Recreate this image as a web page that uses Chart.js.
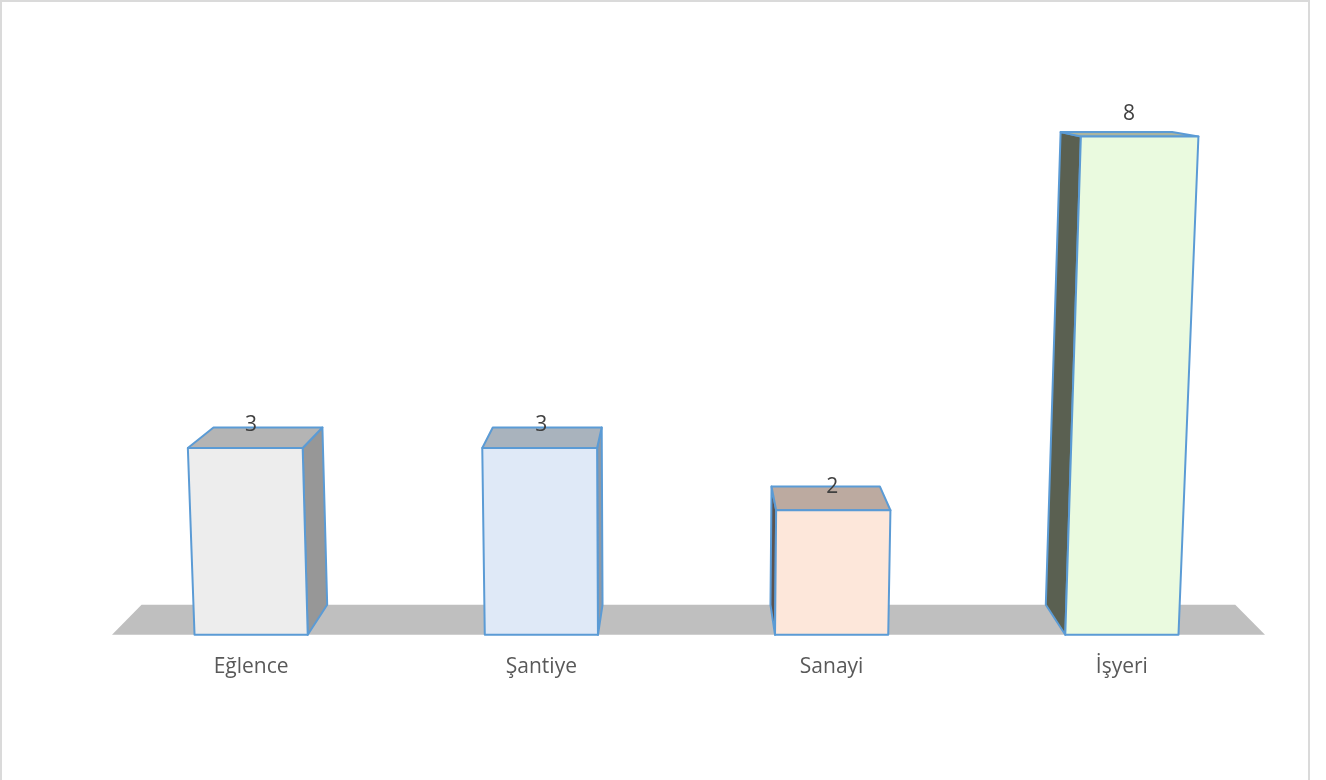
<!DOCTYPE html>
<html><head><meta charset="utf-8">
<script src="https://cdn.jsdelivr.net/npm/chart.js@4.4.1/dist/chart.umd.min.js"></script>
<style>
html,body{margin:0;padding:0;background:#fff;overflow:hidden}
#wrap{position:absolute;left:0;top:0;width:1326px;height:780px}
#frame{position:absolute;left:0;top:0;width:1310px;height:800px;border:2px solid #dadada;box-sizing:border-box;pointer-events:none}
</style></head><body>
<div id="wrap"><canvas id="c" width="1326" height="780"></canvas><div id="frame"></div></div>
<script>
const categories = ['Eğlence', 'Şantiye', 'Sanayi', 'İşyeri'];
const values = [3, 3, 2, 8];
const frontColors = ['#ededed', '#dfe9f7', '#fde7da', '#eafadf'];
const topColors = ['#b4b4b4', '#a9b3bd', '#bcaaa0', '#abb49f'];
const sideColors = ['#979797', '#8e99a6', '#5b524e', '#5a6051'];
const edgeColor = '#5b9bd5';
const floorColor = '#bfbfbf';

const DEPTH = 0.0514;   // depth fraction toward vanishing point
const VERT = 7.7e-5;    // vertical perspective lean

function vanish(a) { return { x: (a.left + a.right) / 2, y: a.top + 38 }; }
function proj(p, vp) { return { x: p.x + DEPTH * (vp.x - p.x), y: p.y + DEPTH * (vp.y - p.y) }; }
function poly(ctx, pts, fill, stroke) {
  ctx.beginPath();
  ctx.moveTo(pts[0].x, pts[0].y);
  for (let i = 1; i < pts.length; i++) ctx.lineTo(pts[i].x, pts[i].y);
  ctx.closePath();
  ctx.fillStyle = fill; ctx.fill();
  if (stroke) { ctx.strokeStyle = stroke; ctx.lineWidth = 2; ctx.lineJoin = 'round'; ctx.stroke(); }
}

const prism = {
  id: 'prism3d',
  beforeDatasetsDraw(chart) {
    const { ctx, chartArea: a, scales: { y } } = chart;
    const vp = vanish(a);
    const base = y.getPixelForValue(0);
    const f1 = { x: a.left + 6, y: base }, f2 = { x: a.right - 2, y: base };
    ctx.save();
    poly(ctx, [f1, f2, proj(f2, vp), proj(f1, vp)], floorColor, null);
    ctx.restore();
  },
  afterDatasetsDraw(chart) {
    const { ctx, chartArea: a } = chart;
    const vp = vanish(a);
    const lx = vp.x - 28;
    const meta = chart.getDatasetMeta(0);
    ctx.save();
    meta.data.forEach((bar, i) => {
      const w = bar.width, h = bar.base - bar.y;
      const bl = { x: bar.x - w / 2, y: bar.base };
      const br = { x: bar.x + w / 2, y: bar.base };
      const tl = { x: bl.x + (bl.x - lx) * h * VERT, y: bar.y };
      const tr = { x: br.x + (br.x - lx) * h * VERT, y: bar.y };
      const btl = proj(tl, vp), btr = proj(tr, vp), bbl = proj(bl, vp), bbr = proj(br, vp);
      if (bar.x < vp.x) {
        poly(ctx, [br, tr, btr, bbr], sideColors[i], edgeColor);
      } else {
        poly(ctx, [bl, tl, btl, bbl], sideColors[i], edgeColor);
      }
      poly(ctx, [tl, tr, btr, btl], topColors[i], edgeColor);
      poly(ctx, [bl, br, tr, tl], frontColors[i], edgeColor);
      ctx.fillStyle = '#404040';
      ctx.font = '21px "Open Sans"';
      ctx.textAlign = 'center';
      ctx.textBaseline = 'middle';
      const skew = (tl.x + tr.x - bl.x - br.x) / 2;
      ctx.fillText(String(values[i]), bar.x + Math.max(0, skew) * 0.4, bar.y - 23);
    });
    ctx.restore();
  }
};

new Chart(document.getElementById('c'), {
  type: 'bar',
  data: {
    labels: categories,
    datasets: [{
      data: values,
      backgroundColor: frontColors,
      borderWidth: 0,
      barPercentage: 0.39,
      categoryPercentage: 1
    }]
  },
  options: {
    responsive: false,
    animation: false,
    layout: { padding: { left: 106, right: 59, top: 12, bottom: 80 } },
    plugins: { legend: { display: false }, tooltip: { enabled: false } },
    scales: {
      x: {
        grid: { display: false, drawTicks: false },
        border: { display: false },
        ticks: { padding: 20, color: '#595959', font: { family: 'Open Sans', size: 21 } }
      },
      y: { display: false, min: 0, max: 10 }
    }
  },
  plugins: [prism]
});
</script>
</body></html>
